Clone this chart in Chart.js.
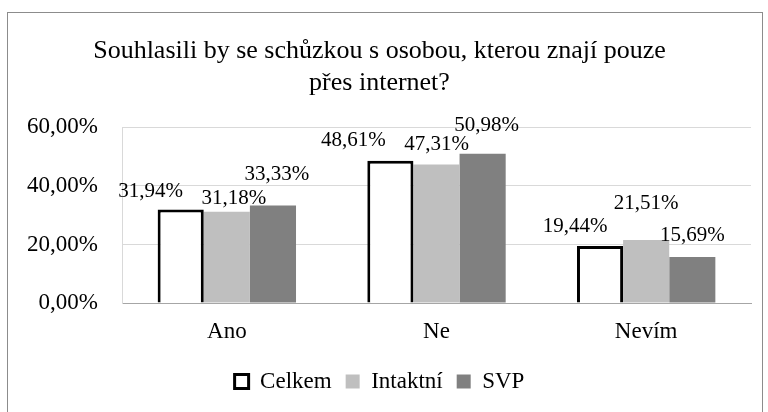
<!DOCTYPE html>
<html>
<head>
<meta charset="utf-8">
<script src="https://cdn.jsdelivr.net/npm/chart.js@4/dist/chart.umd.min.js"></script>
<style>
  html, body { margin: 0; padding: 0; background: #fff; overflow: hidden; }
  #wrap {
    position: absolute; left: 7px; top: 12px;
    width: 756px; height: 410px;
    border: 1px solid #8c8c8c; box-sizing: border-box;
  }
</style>
</head>
<body>
<div id="wrap"><canvas id="chBar"></canvas></div>
<script>
var categories = ['Ano', 'Ne', 'Nevím'];
var celkem = [31.94, 48.61, 19.44];
var intaktni = [31.18, 47.31, 21.51];
var svp = [33.33, 50.98, 15.69];
var titleLines = ['Souhlasili by se schůzkou s osobou, kterou znají pouze', 'přes internet?'];

var serif = "'Liberation Serif', 'Times New Roman', serif";

function pct(v) {
    return v.toFixed(2).replace('.', ',') + '%';
}

// draws the value above every bar; nudges mimic the spreading of labels in the original
var valueLabels = {
    id: 'valueLabels',
    afterDatasetsDraw: function (chart, args, opts) {
        var ctx = chart.ctx;
        ctx.save();
        ctx.font = '21px ' + serif;
        ctx.fillStyle = '#000';
        ctx.textAlign = 'center';
        ctx.textBaseline = 'alphabetic';
        chart.data.datasets.forEach(function (ds, i) {
            var meta = chart.getDatasetMeta(i);
            meta.data.forEach(function (bar, j) {
                var n = opts.nudge[i][j];
                ctx.fillText(pct(ds.data[j]), bar.x + n[0], bar.y - n[1]);
            });
        });
        ctx.restore();
    }
};

var ctx = document.getElementById('chBar').getContext('2d');
var chart = new Chart(ctx, {
    type: 'bar',
    data: {
        labels: categories,
        datasets: [
            { label: 'Celkem', data: celkem, backgroundColor: '#ffffff', borderColor: '#000000', borderWidth: 3 },
            { label: 'Intaktní', data: intaktni, backgroundColor: '#bfbfbf', borderWidth: 0 },
            { label: 'SVP', data: svp, backgroundColor: '#808080', borderWidth: 0 }
        ]
    },
    options: {
        responsive: true,
        maintainAspectRatio: false,
        animation: false,
        categoryPercentage: 0.66,
        barPercentage: 1,
        layout: { padding: { left: 0, right: 11, top: 0, bottom: 18 } },
        plugins: {
            valueLabels: {
                nudge: [
                    [[-30, 13], [-37, 15], [-25, 14]],
                    [[7, 8], [0, 15], [0, 31]],
                    [[4, 25], [4, 23], [0, 16]]
                ]
            },
            title: {
                display: true,
                text: titleLines,
                color: '#000',
                font: { family: serif, size: 26, weight: 'normal', lineHeight: 1.2 },
                padding: { top: 23, bottom: 29 }
            },
            legend: {
                position: 'bottom',
                labels: {
                    color: '#000',
                    font: { family: serif, size: 23 },
                    boxWidth: 14,
                    boxHeight: 14,
                    padding: 14
                }
            },
            tooltip: { enabled: false }
        },
        scales: {
            x: {
                afterFit: function (scale) { scale.height = 53; },
                grid: { display: false, drawTicks: false },
                border: { color: '#a6a6a6', width: 1 },
                ticks: { color: '#000', font: { family: serif, size: 23 }, padding: 15 }
            },
            y: {
                min: 0,
                max: 60,
                afterFit: function (scale) { scale.width = 114; },
                grid: { color: '#d9d9d9', drawTicks: false, tickLength: 0 },
                border: { color: '#d9d9d9' },
                ticks: {
                    stepSize: 20,
                    color: '#000',
                    font: { family: serif, size: 23 },
                    padding: 24,
                    callback: function (v) { return pct(v); }
                }
            }
        }
    },
    plugins: [valueLabels]
});
</script>
</body>
</html>
